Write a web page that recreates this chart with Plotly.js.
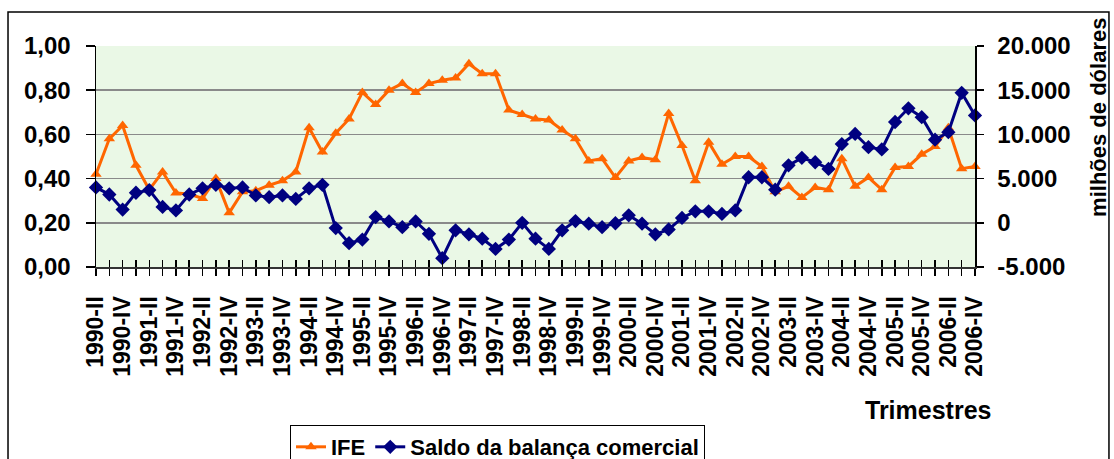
<!DOCTYPE html>
<html>
<head>
<meta charset="utf-8">
<script src="https://cdn.plot.ly/plotly-3.0.1.min.js"></script>
<style>html,body{margin:0;padding:0;background:#fff;}#chart{width:1114px;height:459px;}</style>
</head>
<body>
<div id="chart"></div>
<script>
const quarters = [
  "1990-II","1990-III","1990-IV",
  "1991-I","1991-II","1991-III","1991-IV",
  "1992-I","1992-II","1992-III","1992-IV",
  "1993-I","1993-II","1993-III","1993-IV",
  "1994-I","1994-II","1994-III","1994-IV",
  "1995-I","1995-II","1995-III","1995-IV",
  "1996-I","1996-II","1996-III","1996-IV",
  "1997-I","1997-II","1997-III","1997-IV",
  "1998-I","1998-II","1998-III","1998-IV",
  "1999-I","1999-II","1999-III","1999-IV",
  "2000-I","2000-II","2000-III","2000-IV",
  "2001-I","2001-II","2001-III","2001-IV",
  "2002-I","2002-II","2002-III","2002-IV",
  "2003-I","2003-II","2003-III","2003-IV",
  "2004-I","2004-II","2004-III","2004-IV",
  "2005-I","2005-II","2005-III","2005-IV",
  "2006-I","2006-II","2006-III","2006-IV"
];
const ife = [0.42,0.58,0.64,0.46,0.35,0.43,0.335,0.33,0.31,0.40,0.245,0.34,0.345,0.37,0.39,0.43,0.63,0.52,0.605,0.67,0.79,0.735,0.80,0.83,0.79,0.83,0.845,0.855,0.92,0.875,0.875,0.71,0.69,0.67,0.665,0.62,0.58,0.48,0.49,0.405,0.48,0.495,0.485,0.695,0.55,0.39,0.565,0.465,0.50,0.50,0.455,0.34,0.365,0.315,0.36,0.35,0.49,0.365,0.405,0.35,0.45,0.455,0.51,0.545,0.63,0.445,0.455];
const saldo = [4000,3200,1500,3400,3700,1800,1400,3200,3900,4300,3900,4000,3100,2900,3100,2700,3900,4300,-600,-2300,-1900,650,150,-500,150,-1250,-4000,-850,-1300,-1800,-2950,-1900,0,-1800,-2950,-850,200,-100,-500,-50,850,-100,-1300,-750,550,1300,1300,1000,1400,5150,5150,3750,6500,7350,6850,6100,8900,10050,8550,8300,11400,12950,11950,9400,10250,14700,12150];
const leftTicks = [0,0.2,0.4,0.6,0.8,1.0];
const leftTickText = ["0,00","0,20","0,40","0,60","0,80","1,00"];
const rightTicks = [-5000,0,5000,10000,15000,20000];
const rightTickText = ["-5.000","0","5.000","10.000","15.000","20.000"];
const seriesNames = ["IFE","Saldo da balança comercial"];

const FONT = "Liberation Sans, Arial, sans-serif";
const xTickText = quarters.map((q,i) => i % 2 === 0 ? q : "");

const traces = [
  {x: quarters, y: ife, name: seriesNames[0], type: "scatter", mode: "lines+markers",
   line: {color: "#FF6600", width: 3}, marker: {symbol: "triangle-up", size: 10, color: "#FF6600"},
   cliponaxis: false, yaxis: "y"},
  {x: quarters, y: saldo, name: seriesNames[1], type: "scatter", mode: "lines+markers",
   line: {color: "#000080", width: 3}, marker: {symbol: "diamond", size: 11, color: "#000080"},
   cliponaxis: false, yaxis: "y2"},
  {x: [0], y: [null], xaxis: "x2", yaxis: "y", showlegend: false, hoverinfo: "skip", mode: "lines"}
];

const layout = {
  width: 1114, height: 459,
  margin: {l: 96, r: 139, t: 46, b: 192, autoexpand: false},
  paper_bgcolor: "#ffffff",
  plot_bgcolor: "#eaf8e6",
  font: {family: FONT, color: "#000", size: 22, weight: "bold"},
  showlegend: true,
  xaxis: {
    type: "category", range: [0, quarters.length - 1],
    tickmode: "array", tickvals: quarters, ticktext: xTickText,
    tickangle: -90, ticks: "outside", ticklen: 7, tickwidth: 1.5, tickcolor: "#000",
    showline: true, linecolor: "#333", linewidth: 2,
    showgrid: false, zeroline: false,
    tickfont: {family: FONT, size: 23, weight: "bold", color: "#000"},
    ticklabelstandoff: 11
  },
  xaxis2: {
    type: "linear", overlaying: "x", anchor: "y", side: "bottom",
    range: [0, quarters.length - 1],
    tickmode: "array", tickvals: quarters.map((q,i) => i),
    ticks: "inside", ticklen: 7, tickwidth: 1.5, tickcolor: "#000",
    showticklabels: false, showgrid: false, zeroline: false, showline: false
  },
  yaxis: {
    range: [0, 1], tickmode: "array", tickvals: leftTicks, ticktext: leftTickText,
    ticks: "outside", ticklen: 9, tickwidth: 1.5, tickcolor: "#000",
    showline: true, linecolor: "#000", linewidth: 1.5,
    showgrid: true, gridcolor: "#8a8a8a", gridwidth: 1.5, zeroline: false,
    tickfont: {family: FONT, size: 24, weight: "bold", color: "#000"},
    ticklabelstandoff: 10
  },
  yaxis2: {
    overlaying: "y", side: "right", anchor: "x",
    range: [-5000, 20000], tickmode: "array", tickvals: rightTicks, ticktext: rightTickText,
    ticks: "outside", ticklen: 7, tickwidth: 1.5, tickcolor: "#000",
    showline: true, linecolor: "#000", linewidth: 1.5,
    showgrid: false, zeroline: false,
    tickfont: {family: FONT, size: 24, weight: "bold", color: "#000"},
    ticklabelstandoff: 9
  },
  legend: {
    orientation: "h", x: 0.2207, xanchor: "left", y: -0.715, yanchor: "top",
    bgcolor: "#ffffff", bordercolor: "#000", borderwidth: 1,
    font: {family: FONT, size: 22, weight: "bold", color: "#000"},
    itemwidth: 30, tracegroupgap: 0
  },
  annotations: [
    {text: "Trimestres", xref: "paper", yref: "paper", x: 1.0205, y: -0.647,
     xanchor: "right", yanchor: "middle", showarrow: false,
     font: {family: FONT, size: 25, weight: "bold", color: "#000"}},
    {text: "milhões de dólares", xref: "paper", yref: "paper", x: 1.141, y: 0.679,
     xanchor: "center", yanchor: "middle", textangle: -90, showarrow: false,
     font: {family: FONT, size: 22, weight: "bold", color: "#000"}}
  ],
  shapes: [
    {type: "rect", xref: "paper", yref: "paper", x0: -0.1001, x1: 1.1524, y0: -1.0, y1: 1.1538,
     line: {color: "#000", width: 1.5}, fillcolor: "rgba(0,0,0,0)", layer: "below"}
  ]
};

Plotly.newPlot("chart", traces, layout, {staticPlot: true, displayModeBar: false});
</script>
</body>
</html>
